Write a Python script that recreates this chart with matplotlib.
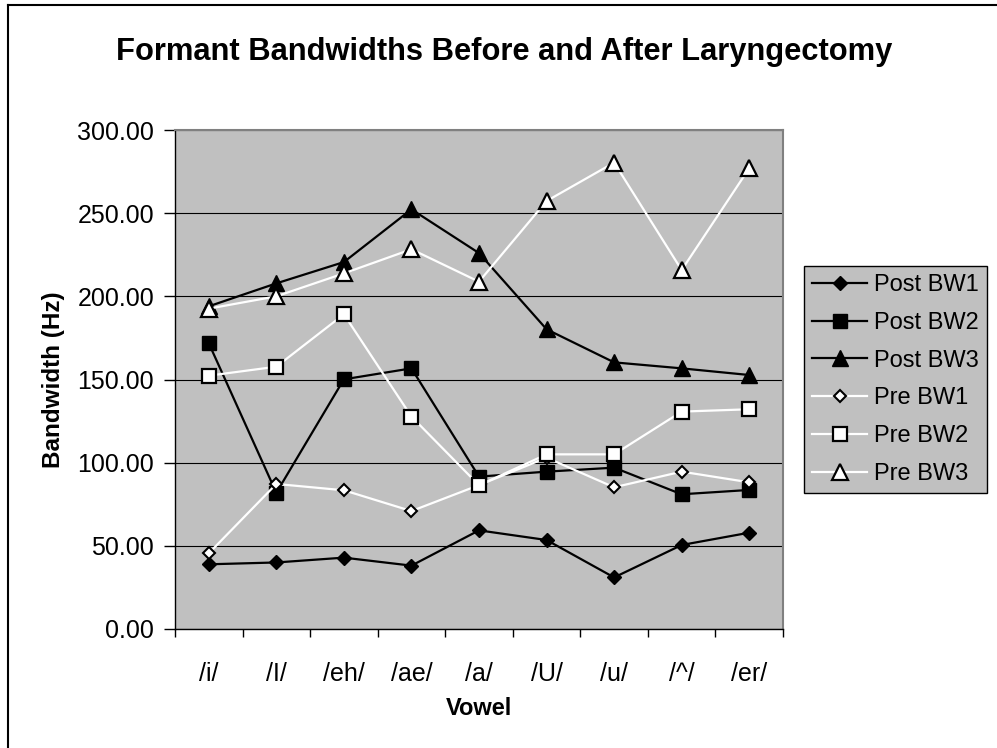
import matplotlib
matplotlib.use("Agg")
import matplotlib.pyplot as plt
from matplotlib.lines import Line2D
import numpy as np

plt.rcParams['font.family'] = ['Liberation Sans', 'DejaVu Sans']

vowels = ["/i/", "/I/", "/eh/", "/ae/", "/a/", "/U/", "/u/", "/^/", "/er/"]

post_bw1 = [38.9, 40.0, 42.9, 38.1, 59.3, 53.5, 31.0, 50.5, 57.9]
post_bw2 = [171.8, 81.9, 150.1, 156.7, 91.6, 94.6, 97.0, 81.0, 83.6]
post_bw3 = [194.0, 207.8, 220.6, 252.3, 226.0, 180.2, 160.3, 156.7, 152.7]
pre_bw1 = [45.5, 87.2, 83.4, 70.9, 86.5, 103.0, 85.2, 94.6, 88.2]
pre_bw2 = [152.3, 157.7, 189.2, 127.7, 86.4, 105.0, 105.0, 130.7, 132.1]
pre_bw3 = [192.6, 200.0, 213.8, 228.3, 208.8, 257.3, 280.4, 215.8, 277.0]

series_names = ["Post BW1", "Post BW2", "Post BW3", "Pre BW1", "Pre BW2", "Pre BW3"]
y_ticks = [0, 50, 100, 150, 200, 250, 300]

W, H = 997, 748
fig = plt.figure(figsize=(W / 100, H / 100), dpi=100)
fig.patch.set_facecolor("white")

# plot area in pixel bounds
L, R, T, B = 175, 783, 130, 629
ax = fig.add_axes([L / W, 1 - B / H, (R - L) / W, (B - T) / H])
ax.set_facecolor("#C0C0C0")

x = np.arange(len(vowels)) + 0.5

styles = [
    dict(color="black", marker="D", ms=7.5, mfc="black", mec="black"),
    dict(color="black", marker="s", ms=10.5, mfc="black", mec="black"),
    dict(color="black", marker="^", ms=11.5, mfc="black", mec="black"),
    dict(color="white", marker="D", ms=6.5, mfc="white", mec="black", mew=1.5),
    dict(color="white", marker="s", ms=10, mfc="white", mec="black", mew=1.6),
    dict(color="white", marker="^", ms=11, mfc="white", mec="black", mew=1.6),
]
data = [post_bw1, post_bw2, post_bw3, pre_bw1, pre_bw2, pre_bw3]
for vals, name, st in zip(data, series_names, styles):
    ax.plot(x, vals, lw=1.6, label=name, clip_on=False, **st)

ax.set_xlim(0, len(vowels))
ax.set_ylim(0, 300)

ax.set_yticks(y_ticks)
ax.set_yticklabels([f"{v:.2f}" for v in y_ticks])
ax.yaxis.grid(True, color="black", lw=0.8)
ax.set_axisbelow(True)

ax.set_xticks(np.arange(len(vowels) + 1))
ax.set_xticklabels([])
ax.set_xticks(x, minor=True)
ax.set_xticklabels(vowels, minor=True)
ax.tick_params(axis="x", which="minor", length=0, pad=24, labelsize=18)
ax.tick_params(axis="x", which="major", length=6, width=1, direction="out")
ax.tick_params(axis="y", length=8, width=1, direction="out", pad=7, labelsize=18)

for side in ("left", "bottom"):
    ax.spines[side].set_color("black")
    ax.spines[side].set_linewidth(1)
for side in ("top", "right"):
    ax.spines[side].set_color("#808080")
    ax.spines[side].set_linewidth(1.5)

ax.set_ylabel("Bandwidth (Hz)", fontsize=17.5, fontweight="bold", labelpad=9)
ax.set_xlabel("Vowel", fontsize=17, fontweight="bold", labelpad=8)

fig.text(504 / W, 1 - 52 / H, "Formant Bandwidths Before and After Laryngectomy",
         ha="center", va="center", fontsize=22.2, fontweight="bold")

leg = ax.legend(loc="upper left", bbox_to_anchor=(804 / W, 1 - 266 / H),
                bbox_transform=fig.transFigure, fontsize=17, frameon=True,
                fancybox=False, shadow=False, handlelength=2.33,
                handletextpad=0.3, labelspacing=0.67, borderpad=0.34,
                borderaxespad=0)
leg.get_frame().set_facecolor("#C0C0C0")
leg.get_frame().set_edgecolor("black")
leg.get_frame().set_linewidth(1)
leg.get_frame().set_alpha(1)

# chart-area border along top and left edges
fig.add_artist(Line2D([8 / W, 1], [1 - 5 / H, 1 - 5 / H], transform=fig.transFigure,
                      color="black", lw=1.5))
fig.add_artist(Line2D([8 / W, 8 / W], [0, 1 - 5 / H], transform=fig.transFigure,
                      color="black", lw=1.5))

fig.savefig("out.png", dpi=100, facecolor="white")
